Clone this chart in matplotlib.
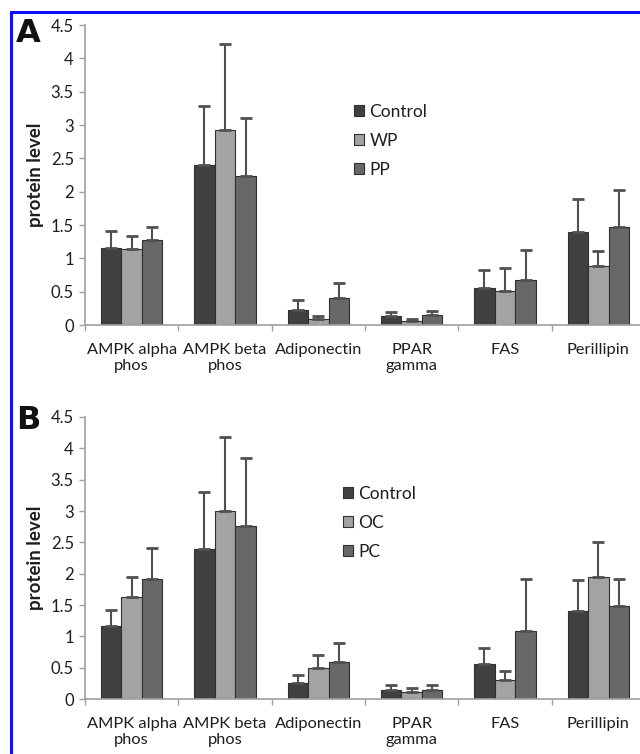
import matplotlib
matplotlib.use("Agg")
import matplotlib.pyplot as plt
import numpy as np
from matplotlib.patches import Rectangle

categories = ["AMPK alpha\nphos", "AMPK beta\nphos", "Adiponectin", "PPAR\ngamma", "FAS", "Perillipin"]

# Panel A
a_series = ["Control", "WP", "PP"]
a_control = [1.16, 2.40, 0.23, 0.14, 0.55, 1.39]
a_control_err = [0.25, 0.88, 0.14, 0.06, 0.27, 0.50]
a_wp = [1.14, 2.93, 0.09, 0.06, 0.51, 0.88]
a_wp_err = [0.20, 1.28, 0.05, 0.03, 0.34, 0.23]
a_pp = [1.27, 2.23, 0.40, 0.15, 0.68, 1.47]
a_pp_err = [0.20, 0.87, 0.23, 0.06, 0.45, 0.55]

# Panel B
b_series = ["Control", "OC", "PC"]
b_control = [1.17, 2.40, 0.25, 0.14, 0.56, 1.40]
b_control_err = [0.25, 0.90, 0.13, 0.08, 0.26, 0.50]
b_oc = [1.63, 3.00, 0.50, 0.11, 0.30, 1.95]
b_oc_err = [0.31, 1.18, 0.21, 0.06, 0.15, 0.55]
b_pc = [1.91, 2.76, 0.59, 0.14, 1.09, 1.49]
b_pc_err = [0.50, 1.08, 0.30, 0.08, 0.83, 0.42]

yticks = [0, 0.5, 1, 1.5, 2, 2.5, 3, 3.5, 4, 4.5]
ytick_labels = ["0", "0.5", "1", "1.5", "2", "2.5", "3", "3.5", "4", "4.5"]

colors = ["#404040", "#a3a3a3", "#686868"]

plt.rcParams['font.family'] = ['Lato', 'DejaVu Sans']
TXT = "#1e1e1e"

W, H = 640, 754
fig = plt.figure(figsize=(W / 100, H / 100), dpi=100)

def ax_rect(left, top, right, bottom):
    return [left / W, 1 - bottom / H, (right - left) / W, (bottom - top) / H]

def draw_panel(ax, series_names, vals, errs, legend_pos, letter, letter_y):
    x = np.arange(len(categories))
    bw = 0.22
    offs = [-bw, 0, bw]
    for i, (name, v, e) in enumerate(zip(series_names, vals, errs)):
        ax.bar(x + offs[i], v, width=bw, color=colors[i], edgecolor="#303030",
               linewidth=0.8, label=name, zorder=2)
        ax.errorbar(x + offs[i], v, yerr=[np.zeros(len(e)), e], fmt="none",
                    ecolor="#505050", elinewidth=1.5, capsize=4, capthick=2, zorder=3)
    ax.set_ylim(0, 4.5)
    ax.set_xlim(-0.5, len(categories) - 0.5)
    ax.set_yticks(yticks)
    ax.set_yticklabels(ytick_labels, fontsize=12, color=TXT)
    ax.set_xticks(x)
    ax.set_xticklabels(categories, fontsize=11.8, color=TXT, linespacing=1.15)
    ax.tick_params(axis="x", length=0, pad=13)
    ax.set_xticks(np.arange(len(categories) + 1) - 0.5, minor=True)
    ax.tick_params(axis="x", which="minor", length=4, color="#a0a0a0", width=1)
    ax.tick_params(axis="y", length=4, color="#a0a0a0", width=1, pad=4)
    for s in ["top", "right"]:
        ax.spines[s].set_visible(False)
    for s in ["left", "bottom"]:
        ax.spines[s].set_color("#a0a0a0")
        ax.spines[s].set_linewidth(1.2)
    ax.set_ylabel("protein level", fontsize=13.5, fontweight="bold", color=TXT, labelpad=5)
    leg = ax.legend(loc="upper left", bbox_to_anchor=legend_pos, frameon=False,
                    fontsize=12.5, handlelength=0.6, handleheight=0.6,
                    handletextpad=0.3, labelspacing=0.75, borderaxespad=0)
    for t in leg.get_texts():
        t.set_color(TXT)
    fig.text(16 / W, 1 - letter_y / H, letter, fontsize=23, fontweight="bold",
             family="DejaVu Sans", va="center", ha="left", color="#111111")

axA = fig.add_axes(ax_rect(85, 25, 645, 325))
draw_panel(axA, a_series, [a_control, a_wp, a_pp], [a_control_err, a_wp_err, a_pp_err],
           ((347 - 85) / 560, (325 - 97) / 300), "A", 33)

axB = fig.add_axes(ax_rect(85, 417, 645, 699))
draw_panel(axB, b_series, [b_control, b_oc, b_pc], [b_control_err, b_oc_err, b_pc_err],
           ((336 - 85) / 560, (699 - 479) / 282), "B", 421)

# blue frame
fig.patches.append(Rectangle((11 / W, -0.1), 1.2, 1 - 12 / H + 0.1, transform=fig.transFigure,
                             fill=False, edgecolor="#1010ff", linewidth=2.2))

fig.savefig("out.png", dpi=100)
